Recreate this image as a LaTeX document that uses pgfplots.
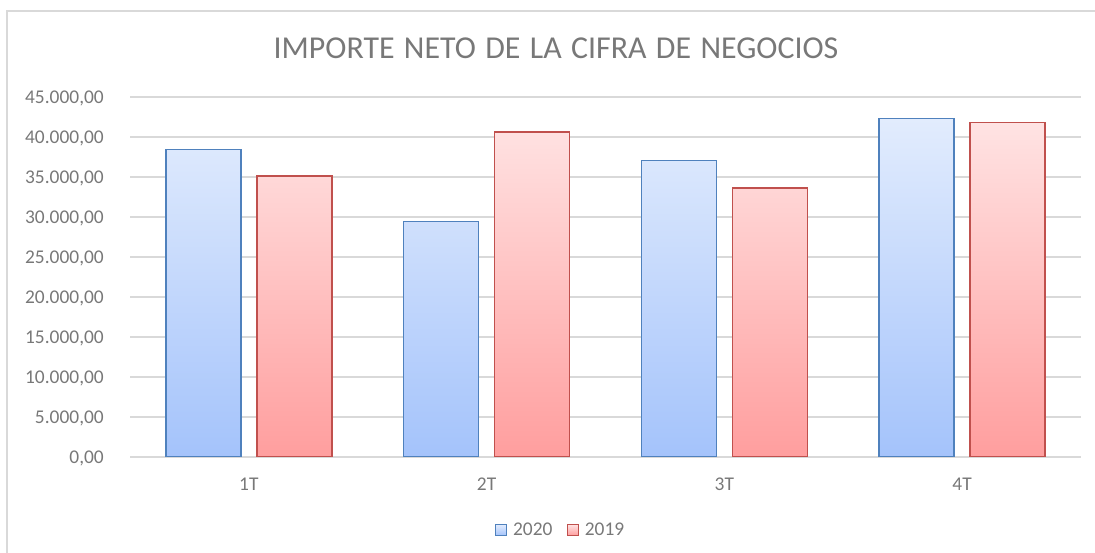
\documentclass[border=0pt]{standalone}
\usepackage{fontspec}
\setmainfont{Carlito}
\usepackage{pgfplots}
\pgfplotsset{compat=1.18}
\definecolor{txt}{RGB}{120,120,120}
\definecolor{gridc}{RGB}{217,217,217}
\definecolor{bluetop}{RGB}{226,236,253}
\definecolor{bluebot}{RGB}{164,195,251}
\definecolor{blueedge}{RGB}{79,129,189}
\definecolor{redtop}{RGB}{255,227,227}
\definecolor{redbot}{RGB}{255,158,158}
\definecolor{rededge}{RGB}{192,80,77}
\newcommand{\ws}{\ \hspace{2.2bp}}
\begin{document}
\begin{tikzpicture}[x=1bp,y=1bp]
\path[use as bounding box] (0,0) rectangle (1095,553);
\draw[gridc, line width=1.5bp] (7,0) -- (7,542) -- (1095,542);
\node[txt, font=\fontsize{32}{38}\selectfont, anchor=base] at (556,494) {IMPORTE\ws NETO\ws DE\ws LA\ws CIFRA\ws DE\ws NEGOCIOS};
\begin{axis}[
  at={(130bp,96bp)}, anchor=south west,
  scale only axis, width=951bp, height=360bp,
  ybar,
  xmin=-0.5, xmax=3.5, ymin=0, ymax=45000,
  ytick={0,5000,...,45000},
  xtick={0,1,2,3}, xticklabels={1T,2T,3T,4T},
  ymajorgrids, grid style={gridc, line width=1.5bp},
  axis line style={draw=none},
  major tick length=0pt,
  scaled y ticks=false,
  tick label style={txt, font=\fontsize{19.5}{23}\selectfont},
  yticklabel style={inner sep=0pt, anchor=base east, xshift=-26bp, yshift=-6.3bp,
    /pgf/number format/.cd, fixed, fixed zerofill, precision=2, use comma, 1000 sep={.}, assume math mode=true},
  xticklabel style={inner sep=0pt, anchor=north, yshift=-21bp},
  legend style={at={(0.4527,-0.2028)}, anchor=center, draw=none, fill=none,
    legend columns=2, font=\fontsize{19.5}{23}\selectfont, text=txt,
    /tikz/every even column/.append style={column sep=12bp}},
  legend image code/.code={\draw[#1, line width=1.2bp] (0bp,-5.5bp) rectangle (11bp,5.5bp); \path (15bp,0bp);},
]
\addplot[bar width=75bp, bar shift=-45.5bp, draw=blueedge, line width=1.5bp, top color=bluetop, bottom color=bluebot]
  coordinates {(0,38425) (1,29460) (2,37050) (3,42330)};
\addplot[bar width=75bp, bar shift=45.5bp, draw=rededge, line width=1.5bp, top color=redtop, bottom color=redbot]
  coordinates {(0,35120) (1,40620) (2,33600) (3,41830)};
\legend{2020,2019}
\end{axis}
\end{tikzpicture}
\end{document}
